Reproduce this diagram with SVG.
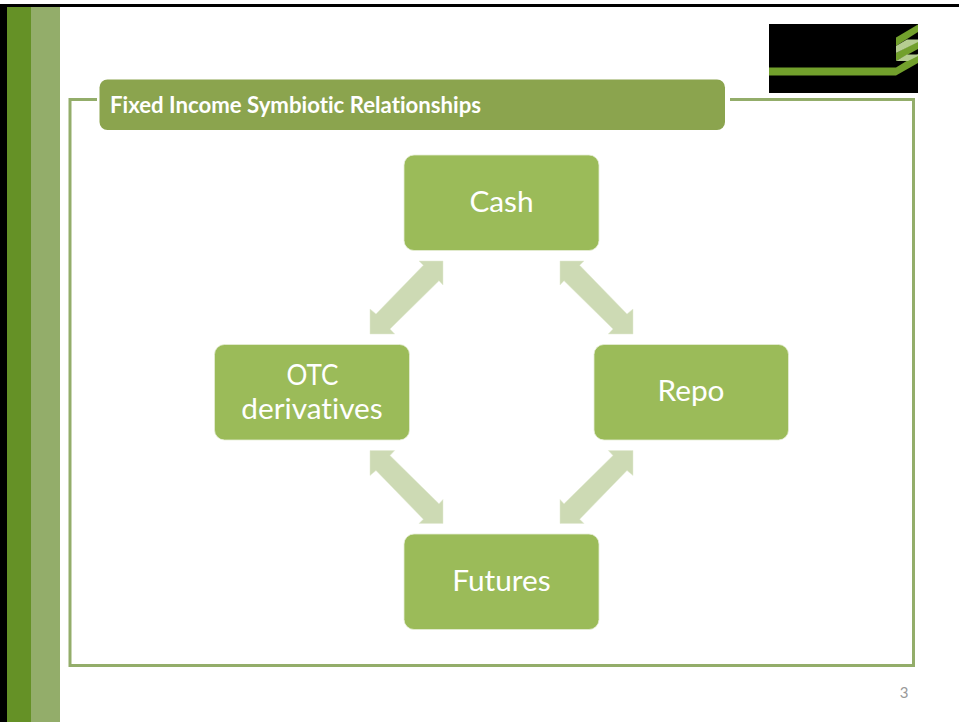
<svg xmlns="http://www.w3.org/2000/svg" width="959" height="722" viewBox="0 0 959 722">
<style>
.node{fill:#9bbb59;stroke:#e6eed6;stroke-width:0.8}
.lbl{font-family:Lato,"Liberation Sans",sans-serif;font-size:29.800px;fill:#fff;text-anchor:middle;font-variant-ligatures:none}
.arrow{fill:#cddab4;stroke:#e2ead3;stroke-width:0.5}
</style>
<defs>
<polygon id="dbl" points="443,261 419,261 423.3,265.3 376,314 370,309 370,334 394.7,334 390,329 439,280.7 443,285"/>
</defs>
<rect width="959" height="722" fill="#fff"/>
<g id="background">
<rect x="0" y="4" width="959" height="3" fill="#000"/>
<rect x="0" y="4" width="7" height="718" fill="#000"/>
<rect x="7" y="7" width="24" height="715" fill="#659126"/>
<rect x="31" y="7" width="29" height="715" fill="#93ad6a"/>
</g>
<g id="logo">
<rect x="769" y="24" width="149" height="69" fill="#000"/>
<path d="M769,67.500H896L918,54V63L896,75.500H769Z" fill="#72a02c"/>
<path d="M896,37.500L918,24.500V32L896,46Z" fill="#72a02c"/>
<path d="M896,53L918,41V49L896,61Z" fill="#72a02c"/>
<path d="M896,46L907,39.500H918V42L896,53Z M896,61L907,54.500H918V56L908,61Z" fill="#b5cd90"/>
</g>
<path id="frame" d="M97,99.500H70V665.500H913.500V99.500H730" fill="none" stroke="#93ad6a" stroke-width="3"/>
<g id="title">
<rect x="99.500" y="79.500" width="625.500" height="50.500" rx="8" fill="#8ba44e"/>
<text x="110" y="113" font-family="Lato,'Liberation Sans',sans-serif" font-size="22.200" font-weight="700" fill="#fff" style="font-variant-ligatures:none">Fixed Income Symbiotic Relationships</text>
</g>
<g id="connectors">
<use href="#dbl" class="arrow"/>
<use href="#dbl" class="arrow" transform="matrix(-1 0 0 1 1003 0)"/>
<use href="#dbl" class="arrow" transform="matrix(1 0 0 -1 0 784.500)"/>
<use href="#dbl" class="arrow" transform="matrix(-1 0 0 -1 1003 784.500)"/>
</g>
<g id="cash"><rect class="node" x="404" y="155" width="195" height="95.500" rx="10"/><text class="lbl" x="501.500" y="212">Cash</text></g>
<g id="repo"><rect class="node" x="594" y="344.500" width="194.500" height="95.500" rx="10"/><text class="lbl" x="691" y="401">Repo</text></g>
<g id="futures"><rect class="node" x="404" y="534" width="195" height="95.500" rx="10"/><text class="lbl" x="501.500" y="591">Futures</text></g>
<g id="otc"><rect class="node" x="214.500" y="344.500" width="195" height="95.500" rx="10"/><text class="lbl" x="312.500" y="385" textLength="52" lengthAdjust="spacingAndGlyphs">OTC</text><text class="lbl" x="312" y="419">derivatives</text></g>
<text id="page" x="904" y="698" font-family="Lato,'Liberation Sans',sans-serif" font-size="15" fill="#999" text-anchor="middle">3</text>
</svg>
